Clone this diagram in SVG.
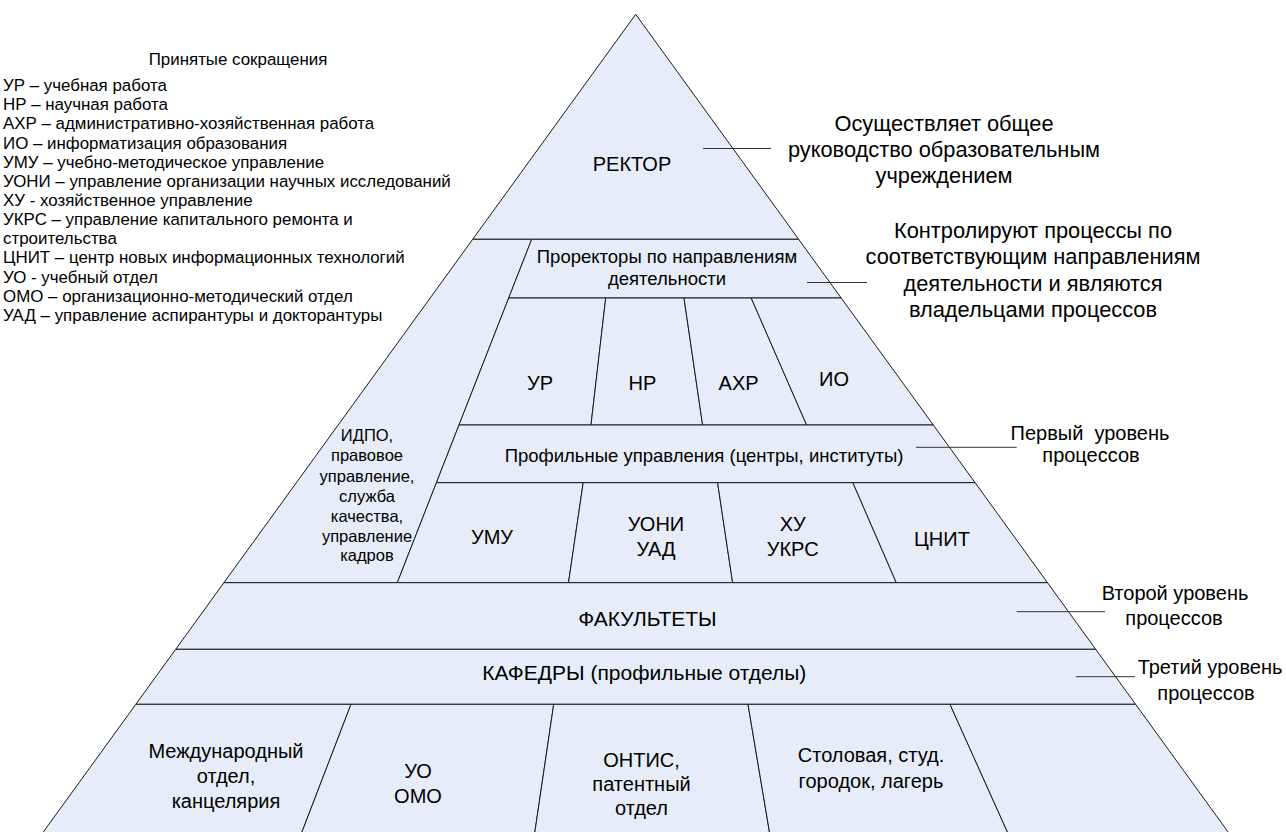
<svg xmlns="http://www.w3.org/2000/svg" width="1286" height="832" viewBox="0 0 1286 832">
<style>
text{font-family:"Liberation Sans",Arial,sans-serif;fill:#000;}
.c{fill:#E7EDF8;stroke:#1a1a1a;stroke-width:1;stroke-linejoin:miter;}
.m{text-anchor:middle;font-size:20px;}
.b{text-anchor:middle;font-size:21px;}
.s{text-anchor:middle;font-size:18.5px;}
.i{text-anchor:middle;font-size:16.5px;}
.lg{font-size:16.9px;}
.r{text-anchor:middle;font-size:21.8px;}
.l{text-anchor:middle;font-size:20px;}
.ld{stroke:#333;stroke-width:1;fill:none;}
</style>
<rect width="1286" height="832" fill="#fff"/>
<g id="legend">
<text class="lg" x="238" y="65" text-anchor="middle">Принятые сокращения</text>
<text class="lg" x="3" y="91">УР – учебная работа</text>
<text class="lg" x="3" y="110.2">НР – научная работа</text>
<text class="lg" x="3" y="129.3">АХР – административно-хозяйственная работа</text>
<text class="lg" x="3" y="148.5">ИО – информатизация образования</text>
<text class="lg" x="3" y="167.6">УМУ – учебно-методическое управление</text>
<text class="lg" x="3" y="186.8">УОНИ – управление организации научных исследований</text>
<text class="lg" x="3" y="205.9">ХУ - хозяйственное управление</text>
<text class="lg" x="3" y="225">УКРС – управление капитального ремонта и</text>
<text class="lg" x="3" y="244.2">строительства</text>
<text class="lg" x="3" y="263.4">ЦНИТ – центр новых информационных технологий</text>
<text class="lg" x="3" y="282.5">УО - учебный отдел</text>
<text class="lg" x="3" y="301.6">ОМО – организационно-методический отдел</text>
<text class="lg" x="3" y="320.8">УАД – управление аспирантуры и докторантуры</text>
</g>
<g id="rector"><polygon class="c" points="635.7,14.3 798.7,239.3 472.7,239.3"/><text class="m" x="632" y="170.5">РЕКТОР</text></g>
<g id="idpo"><polygon class="c" points="472.7,239.3 531.7,239.3 397.3,582.7 223.9,582.7"/>
<text class="i" x="367" y="441">ИДПО,</text>
<text class="i" x="367" y="461">правовое</text>
<text class="i" x="367" y="481.5">управление,</text>
<text class="i" x="367" y="502">служба</text>
<text class="i" x="367" y="521.5">качества,</text>
<text class="i" x="367" y="541.5">управление</text>
<text class="i" x="367" y="561">кадров</text></g>
<g id="prorectors"><polygon class="c" points="531.7,239.3 798.7,239.3 841.2,298 508.7,298"/><text class="s" x="667" y="263">Проректоры по направлениям</text><text class="s" x="667" y="285">деятельности</text></g>
<g id="ur"><polygon class="c" points="508.7,298 605.7,298 591,425 459,425"/><text class="m" x="540" y="390">УР</text></g>
<g id="nr"><polygon class="c" points="605.7,298 684,298 702.6,425 591,425"/><text class="m" x="642.5" y="390">НР</text></g>
<g id="ahr"><polygon class="c" points="684,298 751.2,298 806.6,425 702.6,425"/><text class="m" x="738.6" y="390">АХР</text></g>
<g id="io"><polygon class="c" points="751.2,298 841.2,298 933.3,425 806.6,425"/><text class="m" x="834" y="386">ИО</text></g>
<g id="profile"><polygon class="c" points="459,425 933.3,425 975.1,482.7 436.4,482.7"/><text class="s" x="704" y="461.5">Профильные управления (центры, институты)</text></g>
<g id="umu"><polygon class="c" points="436.4,482.7 583.2,482.7 568.5,582.7 397.3,582.7"/><text class="m" x="492" y="543.7">УМУ</text></g>
<g id="uoni"><polygon class="c" points="583.2,482.7 717.6,482.7 732.6,582.7 568.5,582.7"/><text class="m" x="656" y="531.3">УОНИ</text><text class="m" x="656" y="556.3">УАД</text></g>
<g id="hu"><polygon class="c" points="717.6,482.7 852.9,482.7 896.3,582.7 732.6,582.7"/><text class="m" x="792.7" y="531.3">ХУ</text><text class="m" x="792.7" y="556.3">УКРС</text></g>
<g id="cnit"><polygon class="c" points="852.9,482.7 975.1,482.7 1047.5,582.7 896.3,582.7"/><text class="m" x="942" y="546">ЦНИТ</text></g>
<g id="faculties"><polygon class="c" points="223.9,582.7 1047.5,582.7 1095.7,649.3 175.7,649.3"/><text class="b" x="647.5" y="625.8">ФАКУЛЬТЕТЫ</text></g>
<g id="chairs"><polygon class="c" points="175.7,649.3 1095.7,649.3 1135.6,704.3 135.8,704.3"/><text class="b" x="644.3" y="679.5">КАФЕДРЫ (профильные отделы)</text></g>
<g id="intl"><polygon class="c" points="135.8,704.3 351,704.3 298.9,840 37.5,840"/><text class="m" x="226" y="758">Международный</text><text class="m" x="226" y="783">отдел,</text><text class="m" x="226" y="808">канцелярия</text></g>
<g id="uo"><polygon class="c" points="351,704.3 553.7,704.3 533.7,840 298.9,840"/><text class="m" x="418" y="778">УО</text><text class="m" x="418" y="803">ОМО</text></g>
<g id="ontis"><polygon class="c" points="553.7,704.3 748,704.3 770.8,840 533.7,840"/><text class="m" x="641.5" y="767">ОНТИС,</text><text class="m" x="641.5" y="790.5">патентный</text><text class="m" x="641.5" y="815">отдел</text></g>
<g id="canteen"><polygon class="c" points="748,704.3 950,704.3 1011,840 770.8,840"/><text class="m" x="871" y="762">Столовая, студ.</text><text class="m" x="871" y="788">городок, лагерь</text></g>
<g id="blank"><polygon class="c" points="950,704.3 1135.6,704.3 1233.9,840 1011,840"/></g>
<g id="note-rector"><text class="r" x="944" y="131">Осуществляет общее</text><text class="r" x="944" y="157">руководство образовательным</text><text class="r" x="944" y="183">учреждением</text></g>
<g id="note-prorectors"><text class="r" x="1033" y="237.5">Контролируют процессы по</text><text class="r" x="1033" y="264">соответствующим направлениям</text><text class="r" x="1033" y="290.5">деятельности и являются</text><text class="r" x="1033" y="317">владельцами процессов</text></g>
<g id="note-level1"><text class="l" x="1090" y="440" style="white-space:pre">Первый  уровень</text><text class="l" x="1091" y="461.5">процессов</text></g>
<g id="note-level2"><text class="l" x="1175" y="600">Второй уровень</text><text class="l" x="1174" y="625">процессов</text></g>
<g id="note-level3"><text class="l" x="1210" y="673.5">Третий уровень</text><text class="l" x="1206" y="700">процессов</text></g>
<g id="connectors">
<line class="ld" x1="703" y1="148.5" x2="771" y2="148.5"/>
<line class="ld" x1="807" y1="282.5" x2="867" y2="282.5"/>
<line class="ld" x1="916" y1="447.3" x2="1016.7" y2="447.3"/>
<line class="ld" x1="1016.7" y1="611.7" x2="1105" y2="611.7"/>
<line class="ld" x1="1076" y1="676.7" x2="1135" y2="676.7"/>
</g>
</svg>
